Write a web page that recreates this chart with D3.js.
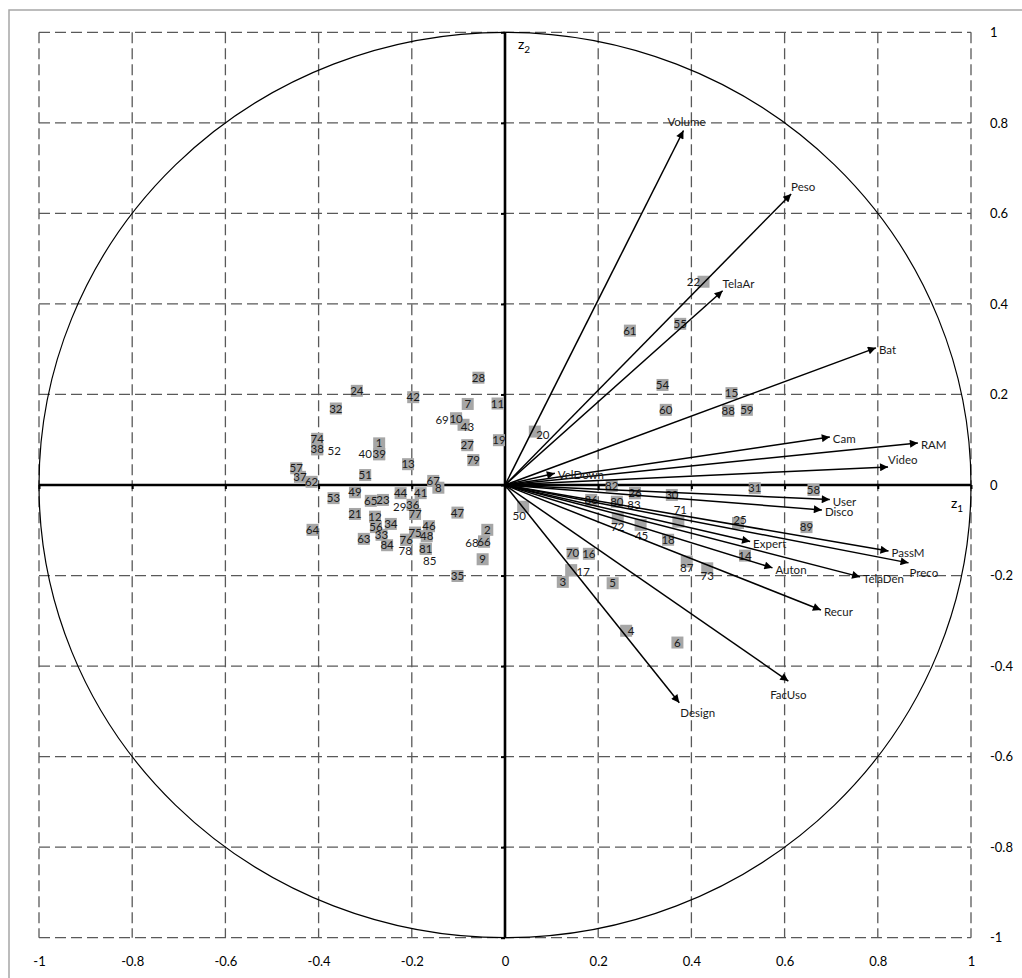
<!DOCTYPE html>
<html>
<head>
<meta charset="utf-8">
<script src="https://cdn.jsdelivr.net/npm/d3@7/dist/d3.min.js"></script>
<style>
  html, body { margin: 0; padding: 0; background: #fff; }
  svg { display: block; font-family: Lato, "Open Sans", sans-serif; }
</style>
</head>
<body>
<svg id="chart" width="1022" height="978"></svg>
<script>
// ---------- DATA ----------
const pointIds = [1,2,3,4,5,6,7,8,9,10,11,12,13,14,15,16,17,18,19,20,21,22,23,24,25,26,27,28,29,30,
  31,32,33,34,35,36,37,38,39,40,41,42,43,44,45,46,47,48,49,50,51,52,53,54,55,56,57,58,59,60,
  61,62,63,64,65,66,67,68,69,70,71,72,73,74,75,76,77,78,79,80,81,82,83,84,85,86,87,88,89];
const pointZ1 = [-0.270,-0.038,0.124,0.260,0.231,0.370,-0.080,-0.143,-0.048,-0.105,-0.016,-0.279,-0.208,0.515,0.486,0.180,0.142,0.350,-0.013,0.064,
  -0.322,0.426,-0.262,-0.318,0.500,0.279,-0.081,-0.057,-0.198,0.358,
  0.536,-0.363,-0.265,-0.245,-0.102,-0.198,-0.440,-0.403,-0.270,-0.270,-0.181,-0.197,-0.089,-0.224,0.291,-0.163,-0.102,-0.168,-0.322,0.039,
  -0.300,-0.403,-0.368,0.338,0.376,-0.277,-0.448,0.662,0.519,0.345,
  0.268,-0.415,-0.303,-0.413,-0.288,-0.045,-0.154,-0.045,-0.105,0.145,0.372,0.242,0.434,-0.403,-0.193,-0.212,-0.193,-0.212,-0.068,0.240,
  -0.170,0.229,0.279,-0.253,-0.170,0.185,0.390,0.479,0.647];
const pointZ2 = [0.092,-0.099,-0.214,-0.322,-0.217,-0.348,0.179,-0.006,-0.164,0.147,0.180,-0.070,0.046,-0.156,0.203,-0.152,-0.188,-0.121,0.099,0.118,
  -0.064,0.449,-0.033,0.208,-0.084,-0.018,0.088,0.237,-0.044,-0.022,
  -0.007,0.169,-0.110,-0.086,-0.201,-0.044,0.018,0.079,0.068,0.068,-0.018,0.194,0.133,-0.018,-0.088,-0.091,-0.061,-0.113,-0.016,-0.048,
  0.022,0.079,-0.029,0.221,0.356,-0.093,0.037,-0.011,0.166,0.166,
  0.341,0.007,-0.119,-0.099,-0.035,-0.125,0.009,-0.125,0.147,-0.151,-0.081,-0.074,-0.184,0.102,-0.105,-0.121,-0.064,-0.121,0.055,-0.037,
  -0.141,-0.002,-0.018,-0.133,-0.141,-0.033,-0.169,0.164,-0.093];

const varNames = ["Volume","Peso","TelaAr","Bat","Cam","RAM","Video","User","Disco","PassM","Preco","Expert","Auton","TelaDen","Recur","FacUso","Design","VelDown"];
const varZ1 = [0.383,0.614,0.467,0.796,0.697,0.886,0.822,0.697,0.680,0.823,0.866,0.526,0.574,0.762,0.678,0.608,0.374,0.107];
const varZ2 = [0.783,0.643,0.429,0.303,0.106,0.093,0.040,-0.032,-0.055,-0.146,-0.172,-0.125,-0.183,-0.203,-0.276,-0.433,-0.481,0.026];
const varLabelPlace = ["above","aboveRight","aboveRight","right","right","right","aboveRight","right","right","right","belowRight","right","right","right","right","below","belowRight","right"];

const tickValues = [-1,-0.8,-0.6,-0.4,-0.2,0,0.2,0.4,0.6,0.8,1];
const tickLabels = ["-1","-0.8","-0.6","-0.4","-0.2","0","0.2","0.4","0.6","0.8","1"];

// ---------- LAYOUT ----------
const svg = d3.select("#chart");
const x = d3.scaleLinear().domain([-1, 1]).range([39, 971]);
const y = d3.scaleLinear().domain([-1, 1]).range([937.7, 32.3]);

// outer chart border
svg.append("rect").attr("x", 9).attr("y", 10).attr("width", 1100).attr("height", 1100)
  .attr("fill", "#fff").attr("stroke", "#a6a6a6").attr("stroke-width", 1.5);

// grid
const gridColor = "#595959";
const grid = svg.append("g").attr("stroke", gridColor).attr("stroke-width", 1.3)
  .attr("stroke-dasharray", "11,5").attr("fill", "none");
tickValues.forEach(v => {
  if (v !== 0) {
    grid.append("line").attr("x1", x(v)).attr("x2", x(v)).attr("y1", y(1)).attr("y2", y(-1));
    grid.append("line").attr("x1", x(-1)).attr("x2", x(1)).attr("y1", y(v)).attr("y2", y(v));
  }
});

// unit circle (in data units)
svg.append("ellipse").attr("cx", x(0)).attr("cy", y(0))
  .attr("rx", x(1) - x(0)).attr("ry", y(0) - y(1))
  .attr("fill", "none").attr("stroke", "#000").attr("stroke-width", 1.2);

// main axes (thick)
const xAxisG = svg.append("g").attr("transform", `translate(0,${y(0)})`)
  .call(d3.axisBottom(x).tickValues(tickValues).tickSize(4).tickFormat(""));
xAxisG.select(".domain").attr("stroke", "#000").attr("stroke-width", 2.6).attr("d", `M${x(-1)},0H${x(1)}`);
xAxisG.selectAll(".tick line").attr("stroke", "#000").attr("stroke-width", 2);

const yAxisG = svg.append("g").attr("transform", `translate(${x(0)},0)`)
  .call(d3.axisLeft(y).tickValues(tickValues).tickSize(4).tickFormat(""));
yAxisG.select(".domain").attr("stroke", "#000").attr("stroke-width", 2.6).attr("d", `M0,${y(1)}V${y(-1)}`);
yAxisG.selectAll(".tick line").attr("stroke", "#000").attr("stroke-width", 2);

// tick labels (bottom and right)
const bottomLabels = svg.append("g").attr("transform", `translate(0,${y(-1)})`)
  .call(d3.axisBottom(x).tickValues(tickValues).tickSize(0).tickPadding(19)
    .tickFormat((d, i) => tickLabels[i]));
bottomLabels.select(".domain").remove();
bottomLabels.selectAll("text").attr("font-size", 13).attr("fill", "#000")
  .attr("font-family", "Lato, sans-serif");

const rightLabels = svg.append("g").attr("transform", `translate(${x(1)},0)`)
  .call(d3.axisRight(y).tickValues(tickValues).tickSize(0).tickPadding(19)
    .tickFormat((d, i) => tickLabels[i]));
rightLabels.select(".domain").remove();
rightLabels.selectAll("text").attr("font-size", 13).attr("fill", "#000")
  .attr("font-family", "Lato, sans-serif");

// points
const points = pointIds.map((id, i) => ({ id, z1: pointZ1[i], z2: pointZ2[i] }));
// points whose markers are hidden beneath another marker, drawn first
const hiddenIds = new Set([29, 40, 52, 68, 69, 78, 83, 85]);
const labelNudge = {
  43: [4, 2], 20: [8, 3], 50: [-4, 9], 17: [12, 2], 71: [2, -12], 72: [0, 8], 45: [1, 11],
  87: [0, 6], 73: [0, 8], 4: [5, 0], 22: [-10, 0], 25: [2, -3],
  29: [-13, 2], 40: [-14, 0], 52: [17, 2], 68: [-12, 1], 69: [-14, 1], 78: [-1, 11], 83: [-1, 12], 85: [4, 12]
};
const ordered = points.filter(p => hiddenIds.has(p.id)).concat(points.filter(p => !hiddenIds.has(p.id)));
svg.append("g").selectAll("rect").data(ordered).join("rect")
  .attr("x", d => x(d.z1) - 6).attr("y", d => y(d.z2) - 6)
  .attr("width", 12).attr("height", 12).attr("fill", "#a6a6a6");

svg.append("g").selectAll("text").data(points).join("text")
  .attr("x", d => x(d.z1) + (labelNudge[d.id] ? labelNudge[d.id][0] : 0))
  .attr("y", d => y(d.z2) + (labelNudge[d.id] ? labelNudge[d.id][1] : 0))
  .attr("text-anchor", "middle").attr("dy", "0.36em")
  .attr("font-size", 11.5).attr("fill", "#1a1a1a")
  .text(d => d.id);

// arrows
svg.append("defs").append("marker").attr("id", "arrow")
  .attr("viewBox", "0 0 10 10").attr("refX", 10).attr("refY", 5)
  .attr("markerWidth", 11).attr("markerHeight", 8).attr("markerUnits", "userSpaceOnUse")
  .attr("orient", "auto")
  .append("path").attr("d", "M0,0L10,5L0,10Z").attr("fill", "#000");

const vars = varNames.map((n, i) => ({ name: n, z1: varZ1[i], z2: varZ2[i], place: varLabelPlace[i] }));
svg.append("g").selectAll("line").data(vars).join("line")
  .attr("x1", x(0)).attr("y1", y(0))
  .attr("x2", d => x(d.z1)).attr("y2", d => y(d.z2))
  .attr("stroke", "#000").attr("stroke-width", 1.5)
  .attr("marker-end", "url(#arrow)");

const placeOffsets = {
  above: { anchor: "middle", dx: 3, dy: -9 },
  aboveRight: { anchor: "start", dx: 0, dy: -7 },
  right: { anchor: "start", dx: 3, dy: 2 },
  below: { anchor: "middle", dx: 0, dy: 14 },
  belowRight: { anchor: "start", dx: 1, dy: 10 }
};
svg.append("g").selectAll("text").data(vars).join("text")
  .attr("x", d => x(d.z1) + placeOffsets[d.place].dx)
  .attr("y", d => y(d.z2) + placeOffsets[d.place].dy)
  .attr("text-anchor", d => placeOffsets[d.place].anchor)
  .attr("dy", "0.36em").attr("font-size", 11.5).attr("fill", "#1a1a1a")
  .text(d => d.name);

// axis titles z1 / z2
const t1 = svg.append("text").attr("x", x(1) - 20).attr("y", y(0) + 23)
  .attr("font-size", 14).attr("fill", "#000");
t1.append("tspan").text("z");
t1.append("tspan").attr("font-size", 10).attr("dy", 4).text("1");
const t2 = svg.append("text").attr("x", x(0) + 13).attr("y", y(1) + 17)
  .attr("font-size", 14).attr("fill", "#000");
t2.append("tspan").text("z");
t2.append("tspan").attr("font-size", 10).attr("dy", 4).text("2");
</script>
</body>
</html>
